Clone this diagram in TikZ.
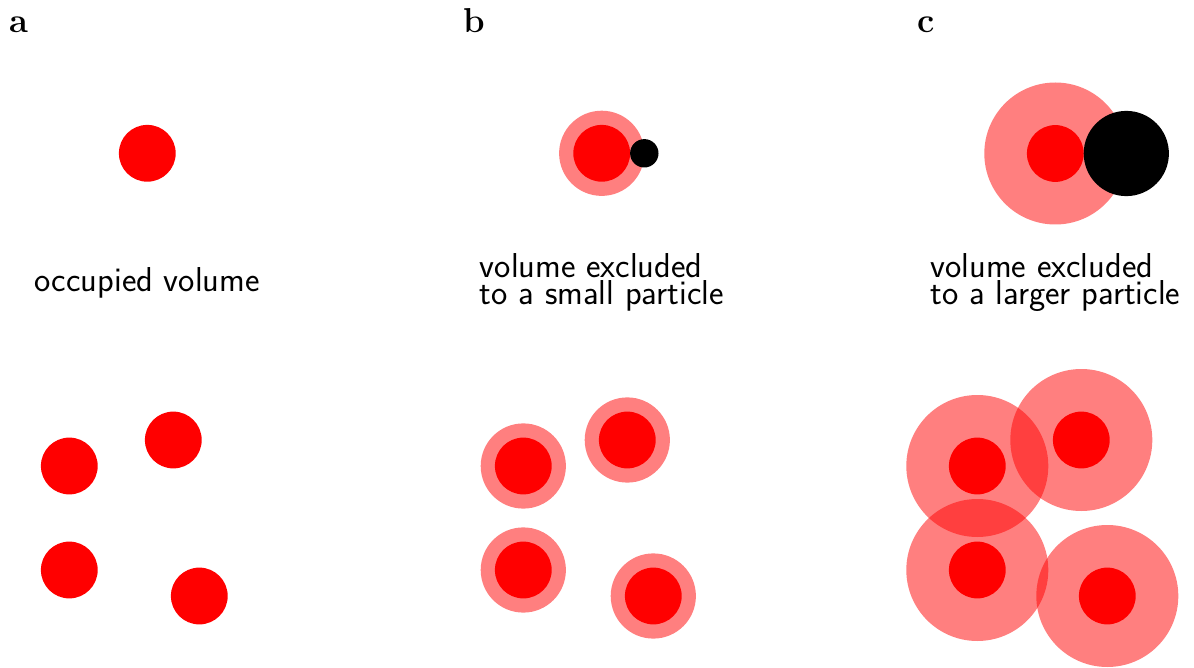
\documentclass[tikz,border=0pt]{standalone}
\begin{document}
\begin{tikzpicture}[x=0.5pt,y=-0.5pt,
  occ/.style={fill=red},
  excl/.style={fill=red,fill opacity=0.5},
  probe/.style={fill=black},
  panellabel/.style={anchor=base west,inner sep=0pt,font=\fontsize{17.28}{20}\selectfont\bfseries},
  caption/.style={anchor=base,inner sep=0pt,align=left,font=\fontsize{17.28}{13.85}\selectfont\sffamily}]
\useasboundingbox (0,0) rectangle (1194,668);
% panel labels
\node[panellabel] (la) at (9,32.3) {a};
\node[panellabel] (lb) at (463,32.3) {b};
\node[panellabel] (lc) at (917,32.3) {c};
% panel a, top
\fill[occ] (147.3,153.3) circle (28.4);
\node[caption] (ta) at (147.3,292) {occupied volume};
% panel b, top
\fill[excl] (601.7,153.3) circle (42.6);
\fill[occ] (601.7,153.3) circle (28.4);
\fill[probe] (644.3,153.3) circle (14.2);
\node[caption] (tb) at (601.7,305) {volume excluded\\to a small particle};
% panel c, top
\fill[excl] (1055.3,153.5) circle (71);
\fill[occ] (1055.3,153.5) circle (28.4);
\fill[probe] (1126.3,153.5) circle (42.6);
\node[caption] (tc) at (1055.3,305) {volume excluded\\to a larger particle};
% bottom row
\foreach \p in {(69.3,466),(173.3,440),(69.3,570),(199.3,596)}{
  \fill[occ] \p circle (28.4);
}
\begin{scope}[xshift=227pt]
\foreach \p in {(69.3,466),(173.3,440),(69.3,570),(199.3,596)}{
  \fill[excl] \p circle (42.6);
}
\foreach \p in {(69.3,466),(173.3,440),(69.3,570),(199.3,596)}{
  \fill[occ] \p circle (28.4);
}
\end{scope}
\begin{scope}[xshift=454pt]
\foreach \p in {(69.3,466),(173.3,440),(69.3,570),(199.3,596)}{
  \fill[excl] \p circle (71);
}
\foreach \p in {(69.3,466),(173.3,440),(69.3,570),(199.3,596)}{
  \fill[occ] \p circle (28.4);
}
\end{scope}
\end{tikzpicture}
\end{document}
